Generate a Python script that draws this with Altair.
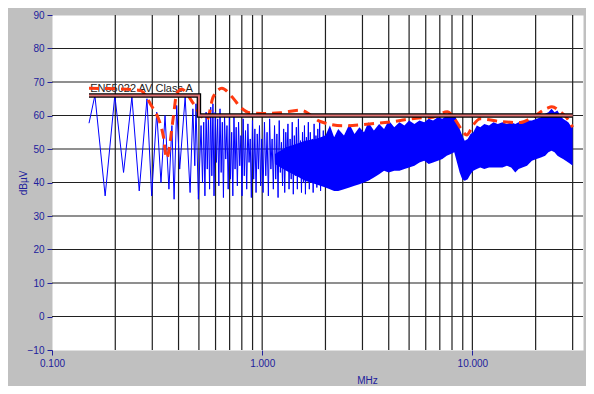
import altair as alt
import pandas as pd

# ---------------- data ----------------
# Blue measured trace, sparse part (alternating peaks / troughs), MHz / dBuV
trace_f = [0.150, 0.160, 0.179, 0.199, 0.219, 0.240, 0.260, 0.283, 0.298, 0.315,
           0.330, 0.345, 0.360, 0.372, 0.381, 0.392, 0.405, 0.430, 0.454, 0.468,
           0.478, 0.484, 0.497, 0.512,
           0.520, 0.527, 0.534, 0.541, 0.548, 0.555, 0.562, 0.569, 0.576, 0.583,
           0.590, 0.598, 0.606, 0.614, 0.622, 0.630, 0.638, 0.646, 0.654, 0.662,
           0.671, 0.680, 0.689, 0.698, 0.707, 0.716, 0.725, 0.734, 0.743, 0.752,
           0.762, 0.772, 0.782, 0.792, 0.802, 0.812, 0.822, 0.833, 0.844, 0.855,
           0.866, 0.877, 0.888, 0.899, 0.911, 0.923, 0.935, 0.947, 0.959, 0.971,
           0.983, 0.995,
           1.010, 1.025, 1.040, 1.055, 1.070, 1.085, 1.100, 1.115, 1.130, 1.145,
           1.160, 1.175, 1.190, 1.205, 1.220, 1.235, 1.250, 1.265, 1.280, 1.295,
           1.310, 1.326, 1.342, 1.358, 1.374, 1.390, 1.406, 1.422, 1.438, 1.454,
           1.470, 1.487, 1.504, 1.521, 1.538, 1.555, 1.572, 1.589, 1.606, 1.623,
           1.640, 1.658, 1.676, 1.694, 1.712, 1.730, 1.748, 1.766, 1.784, 1.802,
           1.820, 1.839, 1.858, 1.877, 1.896, 1.915, 1.934, 1.953, 1.972, 1.991]
trace_v = [57.7, 66, 36, 66, 43, 65.5, 37.5, 65, 36, 61,
           40, 60, 38, 57, 35, 63, 44, 65.5, 37, 62,
           45, 63.5, 35, 57,
           40, 58, 36, 61, 44, 60, 38, 62.5, 42, 63.5,
           36, 61, 46, 59, 39, 62, 43, 58, 35.5, 60,
           47, 57, 38, 59.5, 41, 55, 36, 60, 44, 56.5,
           39, 58, 45, 54, 36, 59, 42, 55.5, 38, 57.5,
           46, 53, 35.5, 58.5, 41, 56, 37, 54.5, 44, 57,
           39, 53,
           37, 58, 42, 55, 36, 59, 44, 53, 38, 57,
           41, 54.5, 35.5, 58.5, 43, 52, 39, 56, 37, 55,
           45, 57.5, 38, 53, 41, 58, 36.5, 54, 42, 56.5,
           38, 59, 44, 52.5, 37, 55, 40, 57, 36.5, 53.5,
           43, 58, 38, 55, 41, 53, 37, 57.5, 42, 54,
           38.5, 56, 40, 58.5, 37.5, 53, 42, 55.5, 39, 54]

# Blue trace, dense part drawn as a band (upper / lower envelope)
band_f = [1.15, 1.30, 1.45, 1.60, 1.80,
          2.00, 2.10, 2.20, 2.30, 2.45, 2.60, 2.75, 2.90, 3.05, 3.20,
          3.40, 3.60, 3.80, 4.00, 4.25, 4.50, 4.75, 5.00, 5.30, 5.60,
          5.90, 6.20, 6.50, 6.85, 7.20, 7.55, 7.90, 8.20, 8.45, 8.70,
          8.95, 9.20, 9.50, 9.80, 10.10, 10.50, 10.90, 11.40, 12.00, 12.60,
          13.20, 13.90, 14.60, 15.30, 16.00, 16.60, 17.30, 18.20, 19.20, 20.20,
          21.20, 22.20, 23.00, 23.80, 24.60, 25.40, 26.20, 27.00, 27.80, 28.60,
          29.30, 30.00]
band_hi = [48.5, 50.5, 51.5, 52.5, 53,
           54, 57, 53.5, 56, 54, 57.5, 54.5, 56.5, 55, 58,
           55.5, 57.5, 56, 58.5, 56.5, 58, 57, 58.5, 57.5, 58.5,
           58, 59, 58.5, 59.5, 59, 60, 60, 60.5, 58.5, 56,
           54, 52.5, 53, 54.5, 55, 57, 56.5, 57.5, 57, 58,
           57.5, 58, 57.5, 58, 57.5, 58, 58, 58.5, 58.5, 59,
           59.5, 60.5, 61, 62, 61, 61.5, 60, 59, 58.5, 58,
           57, 56.5]
band_lo = [45.5, 43.5, 42, 40.5, 39.5,
           38.5, 38, 37.5, 37.5, 38, 38.5, 39, 39.5, 40, 40.5,
           41.5, 42.5, 43.5, 43, 43.5, 43.5, 44, 44.5, 45, 46,
           46.5, 45.5, 46, 46.5, 47, 48, 48.5, 49, 46, 43,
           41, 40.5, 41, 42.5, 43.5, 44, 44.5, 44, 44.5, 44.5,
           44.5, 44.5, 45, 44.5, 43, 44, 44.5, 45, 46.5, 47,
           47.5, 48, 49, 49.5, 49, 48, 47.5, 47, 46.5, 46,
           45.5, 45]

# Red dashed envelope
env_f = [0.150, 0.200, 0.262, 0.293, 0.339, 0.351, 0.378, 0.392, 0.414, 0.470,
         0.516, 0.546, 0.585, 0.643, 0.718, 0.785, 0.875, 1.050, 1.220, 1.520,
         1.890, 2.440, 3.150, 4.200, 5.400, 6.500, 7.600, 8.000, 8.800, 9.400,
         10.100, 10.900, 13.600, 16.900, 19.500, 22.600, 23.900, 26.200, 28.200, 30.000]
env_v = [68.1, 68.0, 67.5, 63.6, 53.7, 47.2, 59.6, 66.6, 67.8, 63.6,
         59.6, 58.7, 65.6, 68.1, 65.6, 62.6, 60.8, 60.6, 60.8, 61.6,
         58.2, 56.9, 57.4, 58.2, 59.2, 59.5, 61.1, 60.1, 56.2, 54.2,
         57.2, 59.0, 58.2, 57.9, 59.6, 62.1, 62.6, 61.1, 59.2, 56.5]

# EN55022 AV Class A limit
limit_f = [0.15, 0.5, 0.5, 30]
limit_v = [66, 66, 60, 60]
limit_name = "EN55022 AV Class A"

# grid and ticks
grid_f = [0.2, 0.3, 0.4, 0.5, 0.6, 0.7, 0.8, 0.9,
          1, 2, 3, 4, 5, 6, 7, 8, 9, 10, 20, 30]
grid_v = [0, 10, 20, 30, 40, 50, 60, 70, 80]
y_ticks = [-10, 0, 10, 20, 30, 40, 50, 60, 70, 80, 90]
x_ticks = [0.1, 1, 10]

# ---------------- chart ----------------
BLUE_TXT = "#20209c"
FONT = "Liberation Sans"
GRID = "#202020"

trace = pd.DataFrame({"f": trace_f, "v": trace_v})
band = pd.DataFrame({"f": band_f, "hi": band_hi, "lo": band_lo})
env = pd.DataFrame({"f": env_f, "v": env_v})
limit = pd.DataFrame({"f": limit_f, "v": limit_v, "o": list(range(len(limit_f)))})
vgrid = pd.DataFrame({"f": grid_f})
hgrid = pd.DataFrame({"v": grid_v})
label = pd.DataFrame({"f": [0.152], "v": [68.0], "t": [limit_name]})

xs = alt.Scale(type="log", domain=[0.1, 33.6], nice=False)
ys = alt.Scale(domain=[-10, 90], nice=False, zero=False)

axis_x = alt.Axis(values=x_ticks, format=".3f", grid=False, domain=False,
                  tickSize=5, tickColor=BLUE_TXT, labelColor=BLUE_TXT,
                  labelFontSize=10, labelFont=FONT, labelFlush=False,
                  labelOverlap=False, labelPadding=3,
                  title="MHz", titleX=315, titleY=30, titleAlign="center",
                  titleBaseline="middle", titleFontSize=10, titleFont=FONT,
                  titleFontWeight="normal", titleColor=BLUE_TXT)
axis_y = alt.Axis(values=y_ticks, grid=False, domain=False,
                  tickSize=5, tickColor=BLUE_TXT, labelColor=BLUE_TXT,
                  labelFontSize=10, labelFont=FONT, labelPadding=3,
                  title="dBµV", titleX=-29, titleY=167.5, titleAngle=270,
                  titleAlign="center", titleBaseline="middle", titleFontSize=10,
                  titleFont=FONT, titleFontWeight="normal", titleColor=BLUE_TXT)

X = alt.X("f:Q", scale=xs, axis=axis_x)
Y = alt.Y("v:Q", scale=ys, axis=axis_y)

vg = alt.Chart(vgrid).mark_rule(color=GRID, strokeWidth=1.2).encode(x=X)
hg = alt.Chart(hgrid).mark_rule(color=GRID, strokeWidth=1.2).encode(y=Y)
bandc = alt.Chart(band).mark_area(color="#0000FF", opacity=1).encode(
    x=X, y=alt.Y("hi:Q", scale=ys, axis=axis_y), y2="lo:Q")
tr = alt.Chart(trace).mark_line(color="#0000FF", strokeWidth=1).encode(x=X, y=Y)
txt = alt.Chart(label).mark_text(align="left", baseline="middle", fontSize=11,
                                 font=FONT, color="#222222").encode(x=X, y=Y, text="t:N")
en = alt.Chart(env).mark_line(color="#FF3A10", strokeWidth=3, strokeDash=[10, 6],
                              interpolate="monotone").encode(x=X, y=Y)
lim1 = alt.Chart(limit).mark_line(color="#000000", strokeWidth=4.5).encode(
    x=X, y=Y, order="o:Q")
lim2 = alt.Chart(limit).mark_line(color="#E07474", strokeWidth=2).encode(
    x=X, y=Y, order="o:Q")

chart = alt.layer(vg, hg, bandc, tr, txt, en, lim1, lim2).properties(
    width=531, height=335,
    autosize=alt.AutoSizeParams(type="none"),
    padding={"left": 44, "top": 7, "right": 3, "bottom": 36},
).configure(background="#C0C0C0").configure_view(fill="white", stroke="transparent")

chart.save("out.html", embed_options={"renderer": "svg", "actions": False})
